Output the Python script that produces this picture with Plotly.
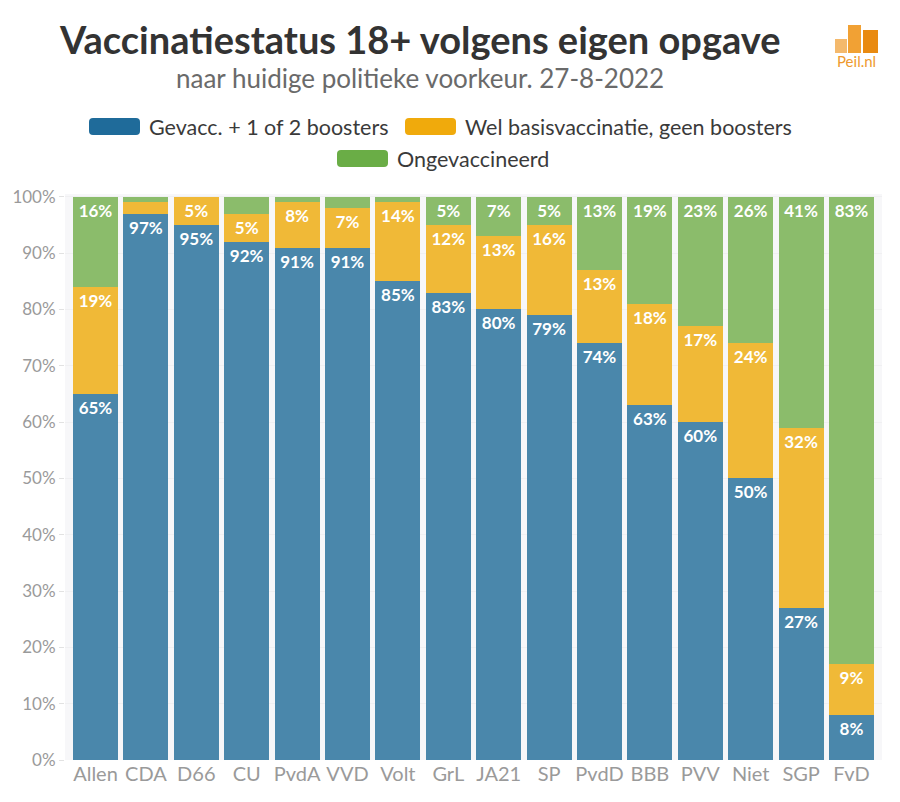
import plotly.graph_objects as go

# ---------------- data ----------------
parties = ["Allen", "CDA", "D66", "CU", "PvdA", "VVD", "Volt", "GrL", "JA21",
           "SP", "PvdD", "BBB", "PVV", "Niet", "SGP", "FvD"]
boosted = [65, 97, 95, 92, 91, 91, 85, 83, 80, 79, 74, 63, 60, 50, 27, 8]
basis = [19, 2, 5, 5, 8, 7, 14, 12, 13, 16, 13, 18, 17, 24, 32, 9]
unvacc = [16, 1, 0, 3, 1, 2, 1, 5, 7, 5, 13, 19, 23, 26, 41, 83]
series_names = ["Gevacc. + 1 of 2 boosters", "Wel basisvaccinatie, geen boosters", "Ongevaccineerd"]
y_ticks = [0, 10, 20, 30, 40, 50, 60, 70, 80, 90, 100]
y_tick_labels = [f"{v}%" for v in y_ticks]

bar_colors = ["#4a87ab", "#f0b937", "#8bbc6b"]
legend_colors = ["#1f6b9a", "#f0aa0c", "#6aad46"]

# ---------------- layout geometry ----------------
W, H = 900, 802
L, R, T, B = 65, 18, 194, 42
PW, PH = W - L - R, H - T - B


def px(x):
    return (x - L) / PW


def py(y):
    return (H - B - y) / PH


FONT = "Lato"

fig = go.Figure()
for vals, name, col in zip([boosted, basis, unvacc], series_names, bar_colors):
    fig.add_trace(go.Bar(
        x=parties, y=vals, name=name, marker=dict(color=col, line=dict(width=0)),
        text=[f"{v}%" if v >= 5 else "" for v in vals],
        textposition="inside", insidetextanchor="end", textangle=0,
        textfont=dict(family=FONT, size=17, color="white", weight="bold"),
        constraintext="none", showlegend=False, hoverinfo="skip",
    ))

shapes = []
annotations = []


def rrect(x0, y0, x1, y1, r, color):
    p = (f"M {px(x0 + r)},{py(y0)} L {px(x1 - r)},{py(y0)} Q {px(x1)},{py(y0)} {px(x1)},{py(y0 + r)} "
         f"L {px(x1)},{py(y1 - r)} Q {px(x1)},{py(y1)} {px(x1 - r)},{py(y1)} "
         f"L {px(x0 + r)},{py(y1)} Q {px(x0)},{py(y1)} {px(x0)},{py(y1 - r)} "
         f"L {px(x0)},{py(y0 + r)} Q {px(x0)},{py(y0)} {px(x0 + r)},{py(y0)} Z")
    return dict(type="path", xref="paper", yref="paper", path=p,
                fillcolor=color, line=dict(width=0), layer="above")


# legend
legend_items = [(89, 118, 147, series_names[0], legend_colors[0]),
                (405, 118, 463, series_names[1], legend_colors[1]),
                (337, 150, 395, series_names[2], legend_colors[2])]
for sx, sy, tx, name, col in legend_items:
    shapes.append(rrect(sx, sy, sx + 51, sy + 17, 4, col))
    annotations.append(dict(x=px(tx), y=py(sy + 8.5), xref="paper", yref="paper",
                            text=name, showarrow=False, xanchor="left", yanchor="middle",
                            font=dict(family=FONT, size=21.5, color="#3a3a3a")))

# title / subtitle
annotations.append(dict(x=px(420), y=py(39), xref="paper", yref="paper",
                        text="<b>Vaccinatiestatus 18+ volgens eigen opgave</b>", showarrow=False,
                        xanchor="center", yanchor="middle",
                        font=dict(family=FONT, size=38, color="#333333")))
annotations.append(dict(x=px(420), y=py(78), xref="paper", yref="paper",
                        text="naar huidige politieke voorkeur. 27-8-2022", showarrow=False,
                        xanchor="center", yanchor="middle",
                        font=dict(family=FONT, size=26, color="#6a6a6a")))

# Peil.nl logo
for x0, y0, x1, col in [(835, 39, 847, "#f4b96c"), (848, 25, 861, "#f1a134"), (863, 30, 878, "#e98a10")]:
    shapes.append(dict(type="rect", xref="paper", yref="paper", x0=px(x0), x1=px(x1),
                       y0=py(53), y1=py(y0), fillcolor=col, line=dict(width=0)))
annotations.append(dict(x=px(856.5), y=py(61), xref="paper", yref="paper", text="Peil.nl",
                        showarrow=False, xanchor="center", yanchor="middle",
                        font=dict(family=FONT, size=15, color="#ee9a2e")))

fig.update_layout(
    width=W, height=H, margin=dict(l=L, r=R, t=T, b=B),
    barmode="stack", bargap=0.107,
    paper_bgcolor="white", plot_bgcolor="#f7f7f9",
    font=dict(family=FONT),
    shapes=shapes, annotations=annotations,
    xaxis=dict(range=[-0.605, 15.605], showgrid=False, zeroline=False, showline=False,
               ticks="", tickfont=dict(family=FONT, size=20, color="#9a9a9a"), fixedrange=True),
    yaxis=dict(range=[0, 100.5], tickvals=y_ticks, ticktext=y_tick_labels,
               showgrid=True, gridcolor="#f0f0f2", zeroline=False, showline=False,
               ticks="outside", ticklen=5, tickcolor="#e2e2e2",
               tickfont=dict(family=FONT, size=17, color="#9a9a9a"), fixedrange=True),
)

fig.write_html("out.html")
